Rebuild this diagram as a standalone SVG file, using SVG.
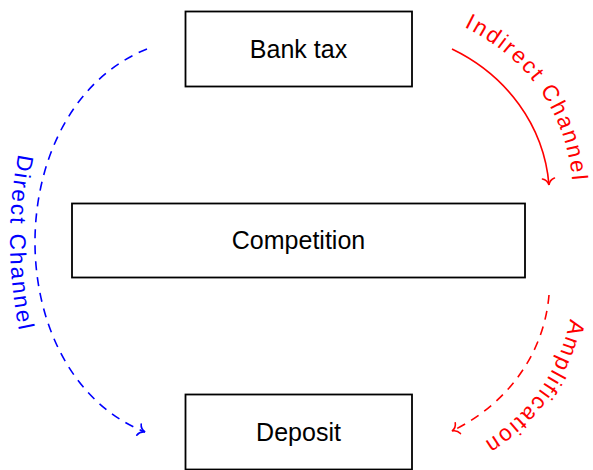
<svg xmlns="http://www.w3.org/2000/svg" width="593" height="470" viewBox="0 0 593 470">
  <style>
    .box { fill: #ffffff; stroke: #000000; stroke-width: 1.8; }
    .label { font-family: "Liberation Sans", "DejaVu Sans", sans-serif; font-size: 25px; fill: #000000; text-anchor: middle; }
    .edge { fill: none; stroke-width: 1.6; }
    .dashed { stroke-dasharray: 9 7; }
    .red { stroke: #ff0000; }
    .blue { stroke: #0000ff; }
    .edge-label { font-family: "Liberation Sans", "DejaVu Sans", sans-serif; font-size: 22.5px; letter-spacing: 2.2px; }
  </style>
  <defs>
    <marker id="to-red" markerUnits="userSpaceOnUse" markerWidth="20" markerHeight="20" refX="0" refY="0" orient="auto" overflow="visible">
      <path d="M-6.5,-6 C-5.5,-2.5 -2.5,-0.6 0,0 C-2.5,0.6 -5.5,2.5 -6.5,6" fill="none" stroke="#ff0000" stroke-width="1.6" stroke-dasharray="none" stroke-linecap="round"/>
    </marker>
    <marker id="to-blue" markerUnits="userSpaceOnUse" markerWidth="20" markerHeight="20" refX="0" refY="0" orient="auto" overflow="visible">
      <path d="M-6.5,-6 C-5.5,-2.5 -2.5,-0.6 0,0 C-2.5,0.6 -5.5,2.5 -6.5,6" fill="none" stroke="#0000ff" stroke-width="1.6" stroke-dasharray="none" stroke-linecap="round"/>
    </marker>
    <!-- baselines for the curved edge labels -->
    <path id="path-direct" d="M19,150 Q1,240 19,330 L22,360"/>
    <path id="path-indirect" d="M462,26 C527,57 567,113 572.5,183 L574,215"/>
    <path id="path-amplification" d="M573,297 C567,367 527,423 462.5,454 L440,464"/>
  </defs>

  <g id="node-bank-tax">
    <rect class="box" x="185.5" y="11.5" width="226.5" height="75"/>
    <text class="label" x="298.5" y="58">Bank tax</text>
  </g>
  <g id="node-competition">
    <rect class="box" x="72" y="203.5" width="453" height="74"/>
    <text class="label" x="298.5" y="249">Competition</text>
  </g>
  <g id="node-deposit">
    <rect class="box" x="185.5" y="394.5" width="226.5" height="75"/>
    <text class="label" x="298.5" y="441">Deposit</text>
  </g>

  <g id="connectors">
    <!-- Bank tax to Deposit, left side -->
    <path class="edge dashed blue" d="M147,49 C-1,108 -3,373 145,432" marker-end="url(#to-blue)"/>
    <!-- Bank tax to Competition, right side -->
    <path class="edge red" d="M452,49 C506,75 544,125 549,185" marker-end="url(#to-red)"/>
    <!-- Competition to Deposit, right side -->
    <path class="edge dashed red" d="M549,295 C544,355 506,405 452,431" marker-end="url(#to-red)"/>

    <text class="edge-label" fill="#0000ff"><textPath href="#path-direct" startOffset="4">Direct Channel</textPath></text>
    <text class="edge-label" fill="#ff0000"><textPath href="#path-indirect" startOffset="2">Indirect Channel</textPath></text>
    <text class="edge-label" fill="#ff0000"><textPath href="#path-amplification" startOffset="22">Amplification</textPath></text>
  </g>
</svg>
